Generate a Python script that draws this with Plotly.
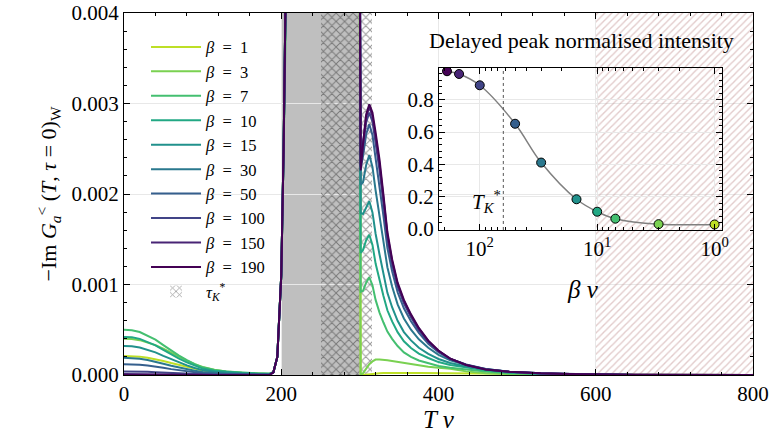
import math
import plotly.graph_objects as go

# ---------------- data ----------------
betas = [1, 3, 7, 10, 15, 30, 50, 100, 150, 190]
colors = ["#bddf26", "#7ad151", "#44bf70", "#22a884", "#21918c",
          "#2a788e", "#355f8d", "#414487", "#482475", "#440154"]

T = [0, 10, 20, 30, 40, 50, 60, 70, 80, 90, 100, 115, 130, 150, 170, 185,
     190, 195, 200, 203, 206, 210, 250, 298, 299.5,
     301, 304, 308, 312, 316, 320, 325, 330, 335, 341, 348, 356, 365, 375,
     387, 400, 415, 435, 460, 490, 530, 580, 620, 650, 800]

rise = [0.00003, 0.0002, 0.0011, 0.0025, 0.0045, 0.006, 0.006, 0.006, 0.0058]

G = {
    1: [0.00021, 0.000209, 0.000203, 0.00019, 0.000175, 0.000155, 0.000132, 0.00011, 0.000088, 0.000068,
        0.00005, 0.000034, 0.000024, 0.000016, 0.000012, 0.00001] + rise +
       [0.0, 0.0, 0.000005, 0.00001, 0.000014, 0.000017, 0.00002, 0.000021, 0.000022, 0.000022,
        0.000022, 0.000022, 0.000022, 0.000021, 0.00002, 0.000019, 0.000018, 0.000017, 0.000016,
        0.000015, 0.000013, 0.00001, 0.000006, 0.000003, 0.0],
    3: [0.0004, 0.000398, 0.000385, 0.00036, 0.00033, 0.00029, 0.000245, 0.0002, 0.000158, 0.00012,
        0.000088, 0.000058, 0.00004, 0.000025, 0.000018, 0.000015] + rise +
       [0.0, 0.00002, 0.00007, 0.00012, 0.00015, 0.00017, 0.00017, 0.000168, 0.000163, 0.000155,
        0.000145, 0.000132, 0.000115, 0.0001, 0.00009, 0.00008, 0.00007, 0.00004, 0.00002, 0.00001,
        0.000005, 0.000002, 0.0, 0.0, 0.0],
    7: [0.0005, 0.000495, 0.000475, 0.000435, 0.00039, 0.00033, 0.00027, 0.000215, 0.000165, 0.00012,
        0.000085, 0.000055, 0.00004, 0.000025, 0.000018, 0.000015] + rise +
       [0.00092, 0.00093, 0.00102, 0.00108, 0.00099, 0.00083, 0.00069, 0.00058, 0.00048, 0.0004,
        0.00032, 0.00025, 0.0002, 0.00016, 0.00013, 0.0001, 0.00008, 0.00006, 0.00004, 0.00002,
        0.00001, 0.000004, 0.000002, 0.0, 0.0],
    10: [0.00042, 0.000416, 0.000399, 0.000365, 0.000328, 0.000277, 0.000227, 0.000181, 0.000139, 0.000101,
         0.000071, 0.000046, 0.000034, 0.000021, 0.000015, 0.000013] + rise +
        [0.00135, 0.00138, 0.00149, 0.00155, 0.001438, 0.001231, 0.001039, 0.000873, 0.000715, 0.000592,
         0.000473, 0.000372, 0.000299, 0.000237, 0.000188, 0.000143, 0.00011, 0.000081, 0.000052, 0.000027,
         0.000013, 0.000006, 0.000003, 0.0, 0.0],
    15: [0.00032, 0.000317, 0.000304, 0.000278, 0.00025, 0.000211, 0.000173, 0.000138, 0.000106, 0.000077,
         0.000054, 0.000035, 0.000026, 0.000016, 0.000011, 0.00001] + rise +
        [0.00179, 0.00178, 0.00186, 0.00192, 0.001797, 0.001561, 0.001332, 0.001117, 0.000908, 0.000749,
         0.000599, 0.000474, 0.000382, 0.000301, 0.000234, 0.000177, 0.000132, 0.000095, 0.00006, 0.000031,
         0.000015, 0.000007, 0.000003, 0.0, 0.0],
    30: [0.00019, 0.000188, 0.00018, 0.000165, 0.000148, 0.000125, 0.000103, 0.000082, 0.000063, 0.000046,
         0.000032, 0.000021, 0.000015, 0.00001, 0.000007, 0.000006] + rise +
        [0.0021, 0.00213, 0.00232, 0.00243, 0.002299, 0.002039, 0.001762, 0.001477, 0.001191, 0.000977,
         0.00078, 0.000625, 0.000501, 0.000394, 0.000301, 0.000222, 0.000162, 0.000109, 0.000067, 0.000036,
         0.000018, 0.000008, 0.000004, 0.000001, 0.0],
    50: [0.00012, 0.000119, 0.000114, 0.000104, 0.000094, 0.000079, 0.000065, 0.000052, 0.00004, 0.000029,
         0.00002, 0.000013, 0.00001, 0.000006, 0.000004, 0.000004] + rise +
        [0.00228, 0.00242, 0.00266, 0.00277, 0.002651, 0.002393, 0.002097, 0.001756, 0.001404, 0.001147,
         0.000914, 0.000737, 0.000593, 0.000465, 0.000346, 0.000252, 0.000177, 0.000116, 0.000066, 0.000036,
         0.000019, 0.000008, 0.000004, 0.000001, 0.0],
    100: [0.00004, 0.00004, 0.000038, 0.000035, 0.000031, 0.000026, 0.000022, 0.000017, 0.000013, 0.00001,
          0.000007, 0.000004, 0.000003, 0.000002, 0.000001, 0.000001] + rise +
         [0.00232, 0.00254, 0.00279, 0.0029, 0.002799, 0.002561, 0.002262, 0.001894, 0.001508, 0.001224,
          0.000977, 0.000792, 0.000638, 0.000496, 0.000365, 0.000261, 0.000177, 0.000113, 0.000064, 0.000035,
          0.000017, 0.000008, 0.000004, 0.000002, 0.0],
    150: [0.00001, 0.00001, 0.00001, 0.000009, 0.000008, 0.000007, 0.000005, 0.000004, 0.000003, 0.000002,
          0.000002, 0.000001, 0.0, 0.0, 0.0, 0.0] + rise +
         [0.0023, 0.00256, 0.00285, 0.00296, 0.002862, 0.002634, 0.002332, 0.001954, 0.001551, 0.001258,
          0.001003, 0.000817, 0.000657, 0.000512, 0.000376, 0.000266, 0.000181, 0.000112, 0.000062, 0.000036,
          0.000018, 0.000008, 0.000004, 0.000002, 0.0],
    190: [0.0] * 16 + rise +
         [0.00226, 0.00255, 0.00288, 0.00299, 0.0029, 0.00268, 0.00238, 0.00199, 0.00158, 0.00128,
          0.00102, 0.00083, 0.00067, 0.00052, 0.00038, 0.00027, 0.00018, 0.00011, 0.00006, 0.000035,
          0.000018, 0.000008, 0.000004, 0.000002, 0.0],
}

# inset: delayed peak normalised intensity vs beta*v
inset_beta = [190, 150, 100, 50, 30, 15, 10, 7, 3, 1]
inset_int = [0.976, 0.959, 0.889, 0.651, 0.411, 0.184, 0.107, 0.064, 0.03, 0.028]
inset_colors = ["#440154", "#482475", "#414487", "#355f8d", "#2a788e",
                "#21918c", "#22a884", "#44bf70", "#7ad151", "#bddf26"]
TK_star = 63

gray_band = (200, 300)
tauK = (250, 315)
hatch_region = (600, 800)

FONT = "'Liberation Serif', 'DejaVu Serif', serif"
NB = "\u00a0"

fig = go.Figure()

# pink hatched region
fig.add_trace(go.Bar(
    x=[(hatch_region[0] + hatch_region[1]) / 2], y=[0.004], base=[0],
    width=[hatch_region[1] - hatch_region[0]],
    marker=dict(color="rgba(180,130,130,0.8)", line=dict(width=0),
                pattern=dict(shape="/", size=5, solidity=0.28,
                             fgcolor="rgba(190,140,140,0.9)", bgcolor="rgba(0,0,0,0)")),
    showlegend=False, hoverinfo="skip"))

# tau_K* crosshatch
fig.add_trace(go.Bar(
    x=[(tauK[0] + tauK[1]) / 2], y=[0.004], base=[0],
    width=[tauK[1] - tauK[0]],
    marker=dict(color="black", line=dict(width=0),
                pattern=dict(shape="x", size=6, solidity=0.3,
                             fgcolor="#333333", bgcolor="rgba(0,0,0,0)")),
    name="<i>τ</i><sub><i>K</i></sub><sup>*</sup>", legendrank=20,
    hoverinfo="skip"))

for i, b in enumerate(betas):
    fig.add_trace(go.Scatter(
        x=T, y=G[b], mode="lines", line=dict(color=colors[i], width=2),
        name=f"<i>β</i>{NB}{NB}={NB}{NB}{b}", legendrank=i + 1))

# inset
fig.add_trace(go.Scatter(
    x=inset_beta, y=inset_int, mode="lines+markers",
    line=dict(color="#808080", width=1.5, shape="spline"),
    marker=dict(color=inset_colors, size=9, line=dict(color="black", width=1)),
    xaxis="x2", yaxis="y2", showlegend=False))

fig.add_shape(type="rect", xref="x", yref="y", x0=gray_band[0], x1=gray_band[1],
              y0=0, y1=0.004, fillcolor="#bfbfbf", line=dict(width=0), layer="below")
fig.add_shape(type="line", xref="x2", yref="y2 domain", x0=TK_star, x1=TK_star, y0=0, y1=1,
              line=dict(color="#555555", width=1, dash="dot"))

fig.add_annotation(xref="x2", yref="y2", x=math.log10(TK_star), y=0.17,
                   text="<i>T</i><sub><i>K</i></sub><sup>*</sup>", showarrow=False,
                   xanchor="right", yanchor="middle",
                   font=dict(family=FONT, size=21, color="black"))
fig.add_annotation(xref="paper", yref="paper", x=0.727, y=0.925,
                   text="Delayed peak normalised intensity", showarrow=False,
                   xanchor="center", yanchor="middle",
                   font=dict(family=FONT, size=22, color="black"))
fig.add_annotation(xref="paper", yref="paper", x=0.73, y=0.235,
                   text="<i>β v</i>", showarrow=False,
                   xanchor="center", yanchor="middle",
                   font=dict(family=FONT, size=25, color="black"))

axis_common = dict(showline=True, linecolor="black", linewidth=1, mirror="ticks",
                   ticks="inside", tickcolor="black", ticklen=6, automargin=False,
                   gridcolor="#e8e8e8", gridwidth=1, zeroline=False,
                   tickfont=dict(family=FONT, size=21, color="black"))

fig.update_layout(
    width=773, height=437,
    margin=dict(l=124, r=20, t=13, b=62),
    paper_bgcolor="white", plot_bgcolor="rgba(0,0,0,0)",
    barmode="overlay", bargap=0,
    font=dict(family=FONT, color="black"),
    xaxis=dict(range=[0, 800], dtick=200, tick0=0,
               minor=dict(ticks="inside", dtick=40, ticklen=3, tickcolor="black", showgrid=False),
               title=dict(text="<i>T v</i>", font=dict(family=FONT, size=25), standoff=4),
               **axis_common),
    yaxis=dict(range=[0, 0.004], dtick=0.001, tickformat=".3f",
               minor=dict(ticks="inside", dtick=0.0002, ticklen=3, tickcolor="black", showgrid=False),
               title=dict(text="−Im <i>G</i><sub><i>a</i></sub><sup>&lt;</sup> (<i>T</i>, <i>τ</i> = 0)<sub>W</sub>",
                          font=dict(family=FONT, size=22), standoff=8),
               **axis_common),
    xaxis2=dict(type="log", range=[2.347, -0.063], domain=[0.5008, 0.9507], anchor="y2",
                tickvals=[100, 10, 1], ticktext=["10<sup>2</sup>", "10<sup>1</sup>", "10<sup>0</sup>"],
                minor=dict(ticks="inside", ticklen=3, tickcolor="black", showgrid=False,
                           tickvals=[200, 90, 80, 70, 60, 50, 40, 30, 20, 9, 8, 7, 6, 5, 4, 3, 2]),
                **axis_common),
    yaxis2=dict(range=[-0.006, 0.998], domain=[0.4006, 0.849], anchor="x2",
                tickvals=[0, 0.2, 0.4, 0.6, 0.8], ticktext=["0.0", "0.2", "0.4", "0.6", "0.8"],
                minor=dict(ticks="inside", dtick=0.04, ticklen=3, tickcolor="black", showgrid=False),
                **axis_common),
    legend=dict(x=0.035, y=0.954, xanchor="left", yanchor="top", itemwidth=50,
                bgcolor="rgba(0,0,0,0)", font=dict(family=FONT, size=16.5, color="black"),
                tracegroupgap=0),
)

fig.write_html("out.html")
